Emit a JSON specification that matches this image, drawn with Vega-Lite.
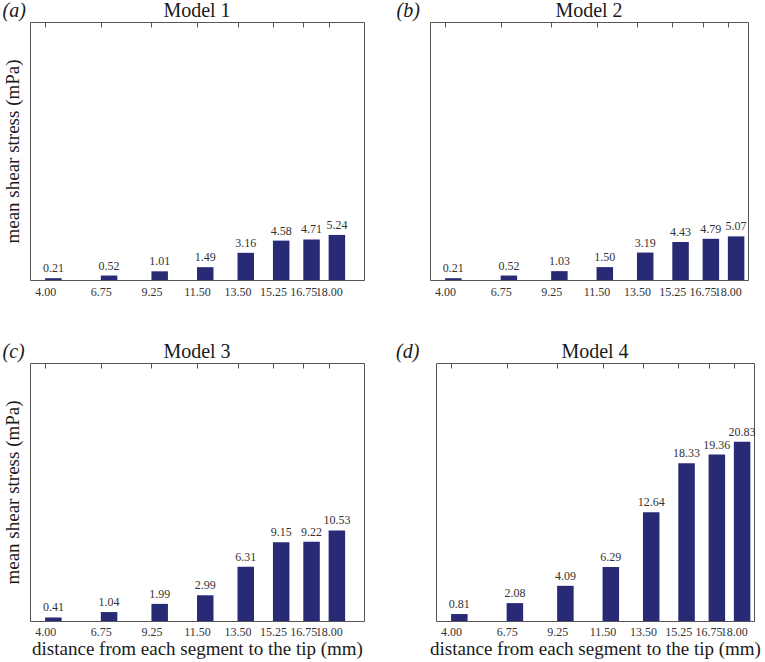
{
  "$schema": "https://vega.github.io/schema/vega-lite/v6.json",
  "padding": {"left": 2, "top": 0, "right": 5, "bottom": 0},
  "data": {"values": [
    {"model": "Model 1", "distance": 4.00, "stress": 0.21},
    {"model": "Model 1", "distance": 6.75, "stress": 0.52},
    {"model": "Model 1", "distance": 9.25, "stress": 1.01},
    {"model": "Model 1", "distance": 11.50, "stress": 1.49},
    {"model": "Model 1", "distance": 13.50, "stress": 3.16},
    {"model": "Model 1", "distance": 15.25, "stress": 4.58},
    {"model": "Model 1", "distance": 16.75, "stress": 4.71},
    {"model": "Model 1", "distance": 18.00, "stress": 5.24},
    {"model": "Model 2", "distance": 4.00, "stress": 0.21},
    {"model": "Model 2", "distance": 6.75, "stress": 0.52},
    {"model": "Model 2", "distance": 9.25, "stress": 1.03},
    {"model": "Model 2", "distance": 11.50, "stress": 1.50},
    {"model": "Model 2", "distance": 13.50, "stress": 3.19},
    {"model": "Model 2", "distance": 15.25, "stress": 4.43},
    {"model": "Model 2", "distance": 16.75, "stress": 4.79},
    {"model": "Model 2", "distance": 18.00, "stress": 5.07},
    {"model": "Model 3", "distance": 4.00, "stress": 0.41},
    {"model": "Model 3", "distance": 6.75, "stress": 1.04},
    {"model": "Model 3", "distance": 9.25, "stress": 1.99},
    {"model": "Model 3", "distance": 11.50, "stress": 2.99},
    {"model": "Model 3", "distance": 13.50, "stress": 6.31},
    {"model": "Model 3", "distance": 15.25, "stress": 9.15},
    {"model": "Model 3", "distance": 16.75, "stress": 9.22},
    {"model": "Model 3", "distance": 18.00, "stress": 10.53},
    {"model": "Model 4", "distance": 4.00, "stress": 0.81},
    {"model": "Model 4", "distance": 6.75, "stress": 2.08},
    {"model": "Model 4", "distance": 9.25, "stress": 4.09},
    {"model": "Model 4", "distance": 11.50, "stress": 6.29},
    {"model": "Model 4", "distance": 13.50, "stress": 12.64},
    {"model": "Model 4", "distance": 15.25, "stress": 18.33},
    {"model": "Model 4", "distance": 16.75, "stress": 19.36},
    {"model": "Model 4", "distance": 18.00, "stress": 20.83}
  ]},
  "spacing": 43,
  "vconcat": [
    {
      "spacing": 31,
      "hconcat": [
        {
          "title": {"text": "(a)", "anchor": "start", "frame": "bounds", "offset": -21, "fontStyle": "italic"},
          "vconcat": [{
            "title": {"text": "Model 1"},
            "width": 334, "height": 258,
            "transform": [{"filter": "datum.model == 'Model 1'"}],
            "encoding": {
              "y": {"field": "stress", "type": "quantitative", "scale": {"domain": [0, 30], "nice": false},
                    "axis": {"title": "mean shear stress (mPa)", "labels": false, "ticks": false, "titlePadding": 8}}
            },
            "layer": [
              {"mark": {"type": "bar", "width": 16.5, "xOffset": 8.25, "color": "#282a76"},
               "encoding": {"x": {"field": "distance", "type": "quantitative", "scale": {"domain": [3.5, 19.5], "nice": false, "zero": false},
                 "axis": {"orient": "bottom", "values": [4, 6.75, 9.25, 11.5, 13.5, 15.25, 16.75, 18], "format": ".2f", "ticks": false, "labelPadding": 6, "title": null}}}},
              {"mark": {"type": "text", "dx": 8.25, "dy": -3, "baseline": "bottom", "fontSize": 12, "color": "#333"},
               "encoding": {"x": {"field": "distance", "type": "quantitative",
                 "axis": {"orient": "top", "values": [4, 6.75, 9.25, 11.5, 13.5, 15.25, 16.75, 18], "labels": false, "tickSize": -5, "tickColor": "#555", "title": null}},
                 "text": {"field": "stress", "type": "quantitative", "format": ".2f"}}}
            ]
          }]
        },
        {
          "title": {"text": "(b)", "anchor": "start", "frame": "bounds", "offset": -21, "dx": -33, "fontStyle": "italic"},
          "vconcat": [{
            "title": {"text": "Model 2"},
            "width": 318, "height": 258,
            "transform": [{"filter": "datum.model == 'Model 2'"}],
            "encoding": {
              "y": {"field": "stress", "type": "quantitative", "scale": {"domain": [0, 30], "nice": false}, "axis": null}
            },
            "layer": [
              {"mark": {"type": "bar", "width": 16.5, "xOffset": 8.25, "color": "#282a76"},
               "encoding": {"x": {"field": "distance", "type": "quantitative", "scale": {"domain": [3.5, 18.75], "nice": false, "zero": false},
                 "axis": {"orient": "bottom", "values": [4, 6.75, 9.25, 11.5, 13.5, 15.25, 16.75, 18], "format": ".2f", "ticks": false, "labelPadding": 6, "title": null}}}},
              {"mark": {"type": "text", "dx": 8.25, "dy": -3, "baseline": "bottom", "fontSize": 12, "color": "#333"},
               "encoding": {"x": {"field": "distance", "type": "quantitative",
                 "axis": {"orient": "top", "values": [4, 6.75, 9.25, 11.5, 13.5, 15.25, 16.75, 18], "labels": false, "tickSize": -5, "tickColor": "#555", "title": null}},
                 "text": {"field": "stress", "type": "quantitative", "format": ".2f"}}}
            ]
          }]
        }
      ]
    },
    {
      "spacing": 31,
      "hconcat": [
        {
          "title": {"text": "(c)", "anchor": "start", "frame": "bounds", "offset": -21, "fontStyle": "italic"},
          "vconcat": [{
            "title": {"text": "Model 3"},
            "width": 334, "height": 258,
            "transform": [{"filter": "datum.model == 'Model 3'"}],
            "encoding": {
              "y": {"field": "stress", "type": "quantitative", "scale": {"domain": [0, 30], "nice": false},
                    "axis": {"title": "mean shear stress (mPa)", "labels": false, "ticks": false, "titlePadding": 8}}
            },
            "layer": [
              {"mark": {"type": "bar", "width": 16.5, "xOffset": 8.25, "color": "#282a76"},
               "encoding": {"x": {"field": "distance", "type": "quantitative", "scale": {"domain": [3.5, 19.5], "nice": false, "zero": false},
                 "axis": {"orient": "bottom", "values": [4, 6.75, 9.25, 11.5, 13.5, 15.25, 16.75, 18], "format": ".2f", "ticks": false, "labelPadding": 5, "title": "distance from each segment to the tip (mm)", "titlePadding": 2}}}},
              {"mark": {"type": "text", "dx": 8.25, "dy": -3, "baseline": "bottom", "fontSize": 12, "color": "#333"},
               "encoding": {"x": {"field": "distance", "type": "quantitative",
                 "axis": {"orient": "top", "values": [4, 6.75, 9.25, 11.5, 13.5, 15.25, 16.75, 18], "labels": false, "tickSize": -5, "tickColor": "#555", "title": null}},
                 "text": {"field": "stress", "type": "quantitative", "format": ".2f"}}}
            ]
          }]
        },
        {
          "title": {"text": "(d)", "anchor": "start", "frame": "bounds", "offset": -21, "dx": -33, "fontStyle": "italic"},
          "vconcat": [{
            "title": {"text": "Model 4"},
            "width": 318, "height": 258,
            "transform": [{"filter": "datum.model == 'Model 4'"}],
            "encoding": {
              "y": {"field": "stress", "type": "quantitative", "scale": {"domain": [0, 30], "nice": false}, "axis": null}
            },
            "layer": [
              {"mark": {"type": "bar", "width": 16.5, "xOffset": 8.25, "color": "#282a76"},
               "encoding": {"x": {"field": "distance", "type": "quantitative", "scale": {"domain": [3.5, 18.75], "nice": false, "zero": false},
                 "axis": {"orient": "bottom", "values": [4, 6.75, 9.25, 11.5, 13.5, 15.25, 16.75, 18], "format": ".2f", "ticks": false, "labelPadding": 5, "title": "distance from each segment to the tip (mm)", "titlePadding": 2}}}},
              {"mark": {"type": "text", "dx": 8.25, "dy": -3, "baseline": "bottom", "fontSize": 12, "color": "#333"},
               "encoding": {"x": {"field": "distance", "type": "quantitative",
                 "axis": {"orient": "top", "values": [4, 6.75, 9.25, 11.5, 13.5, 15.25, 16.75, 18], "labels": false, "tickSize": -5, "tickColor": "#555", "title": null}},
                 "text": {"field": "stress", "type": "quantitative", "format": ".2f"}}}
            ]
          }]
        }
      ]
    }
  ],
  "config": {
    "font": "Liberation Serif",
    "view": {"stroke": "#555", "strokeWidth": 1},
    "text": {"font": "Liberation Serif"},
    "axis": {
      "grid": false, "domain": false, "labelOverlap": false,
      "labelFont": "Liberation Serif", "labelFontSize": 12, "labelColor": "#333",
      "titleFont": "Liberation Serif", "titleFontSize": 19, "titleFontWeight": "normal", "titleColor": "#1a1a1a"
    },
    "title": {"font": "Liberation Serif", "fontSize": 20, "fontWeight": "normal", "color": "#1a1a1a", "offset": 1}
  }
}
